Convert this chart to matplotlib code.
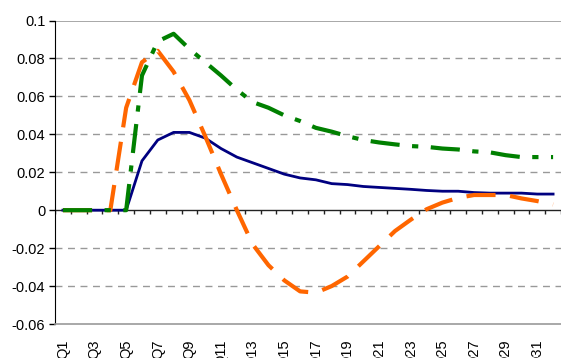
import matplotlib
matplotlib.use('Agg')

import numpy as np
import matplotlib.pyplot as plt

plt.rcParams['font.family'] = ['Liberation Sans', 'DejaVu Sans']

quarters = ['Q{}'.format(i) for i in range(1, 33)]

blue = [0, 0, 0, 0, 0, 0.026, 0.037, 0.041, 0.041, 0.038, 0.0325, 0.028,
        0.025, 0.022, 0.019, 0.017, 0.016, 0.014, 0.0135, 0.0125, 0.012, 0.0115,
        0.011, 0.0104, 0.010, 0.010, 0.0093, 0.009, 0.009, 0.009, 0.0085, 0.0085]

orange = [0, 0, 0, 0, 0.054, 0.078, 0.084, 0.073, 0.058, 0.039, 0.019, 0.0,
          -0.018, -0.029, -0.037, -0.0428, -0.0435, -0.040, -0.035, -0.027, -0.019,
          -0.011, -0.005, 0.0005, 0.004, 0.0065, 0.008, 0.008, 0.008, 0.0062,
          0.0048, 0.003]

green = [0, 0, 0, 0, 0, 0.071, 0.089, 0.093, 0.085, 0.078, 0.071, 0.0635,
         0.057, 0.054, 0.050, 0.047, 0.0434, 0.0414, 0.039, 0.037, 0.0357, 0.0347,
         0.0338, 0.0334, 0.0325, 0.032, 0.031, 0.0305, 0.029, 0.028, 0.028, 0.028]

yticks = [-0.06, -0.04, -0.02, 0, 0.02, 0.04, 0.06, 0.08, 0.1]
ylabels = ['-0.06', '-0.04', '-0.02', '0', '0.02', '0.04', '0.06', '0.08', '0.1']

W, H = 561, 358
fig = plt.figure(figsize=(W / 100, H / 100), dpi=100)
ax = fig.add_axes([55 / W, (H - 324) / H, (W - 55) / W, (324 - 20.5) / H])

x = np.arange(1, len(quarters) + 1)

# gridlines
for y in yticks:
    if y in (0, -0.06, 0.1):
        continue
    ax.axhline(y, color='#999999', lw=1, ls=(0, (5, 4)), zorder=1)
ax.axhline(0.1, color='#999999', lw=1.2, zorder=1)

# category axis at zero with tick marks between categories
ax.axhline(0, color='#222222', lw=1, zorder=2)
bounds = np.arange(0.5, len(quarters) + 1, 1.0)
ax.vlines(bounds, -0.0022, 0, color='#222222', lw=1, zorder=2)

ax.plot(x, blue, color='#000080', lw=2, zorder=3)
ax.plot(x, orange, color='#FF6600', lw=3, dashes=(7, 3.5), zorder=4)
ax.plot(x, green, color='#008000', lw=3, dashes=(7, 3, 1.5, 3), zorder=5)

ax.set_xlim(0.5, len(quarters) + 0.5)
ax.set_ylim(-0.06, 0.1)

ax.set_yticks(yticks)
ax.set_yticklabels(ylabels, fontsize=10.5)
ax.tick_params(axis='y', direction='out', length=4, width=1, pad=3)

ax.set_xticks(x[::2])
ax.set_xticklabels(quarters[::2], rotation=90, fontsize=10.5)
ax.tick_params(axis='x', length=0, pad=11)

ax.spines['right'].set_visible(False)
ax.spines['top'].set_visible(False)
ax.spines['bottom'].set_color('#999999')
ax.spines['bottom'].set_linewidth(1.2)
ax.spines['left'].set_color('black')

plt.savefig('out.png', dpi=100)
